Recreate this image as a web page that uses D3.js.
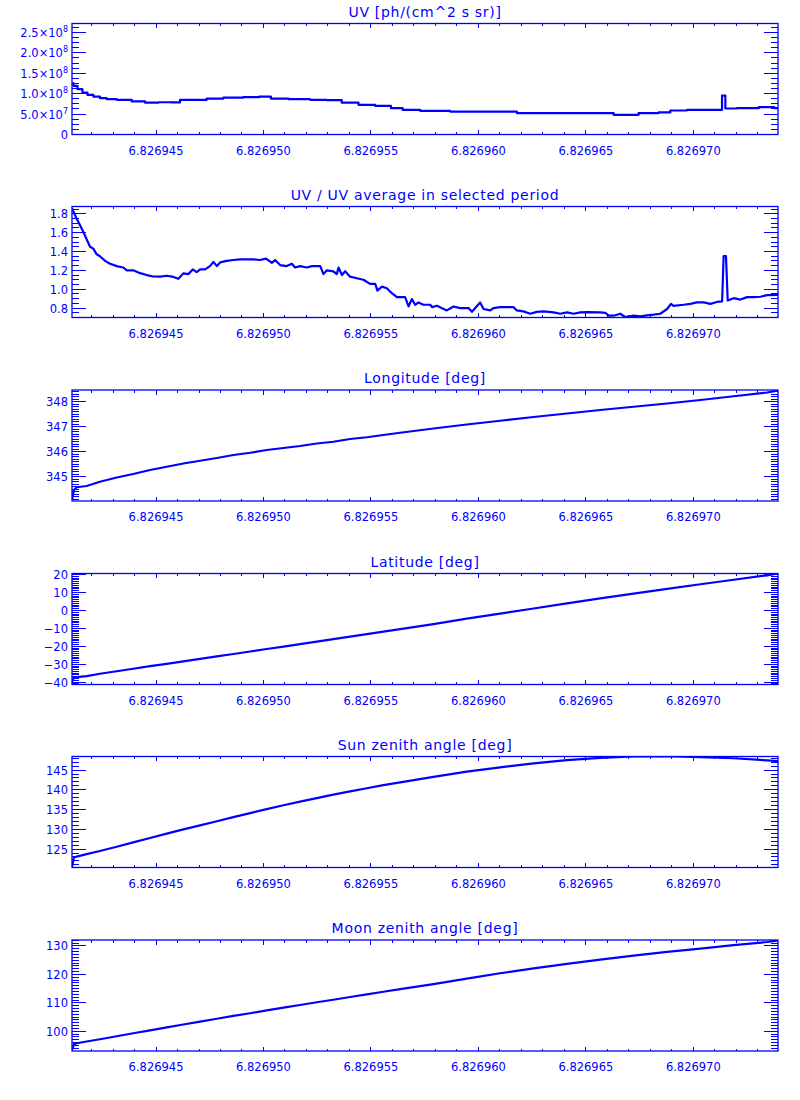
<!DOCTYPE html>
<html><head><meta charset="utf-8">
<script src="https://cdn.jsdelivr.net/npm/d3@7"></script>
<style>
body{margin:0;background:#fff}
svg{display:block}
text{font-family:"DejaVu Sans",sans-serif;fill:#0000ff}
</style>
</head><body>
<svg id="c" width="800" height="1100"></svg>
<script>
// ---------------- DATA ----------------
const titles = [
  "UV [ph/(cm^2 s sr)]",
  "UV / UV average in selected period",
  "Longitude [deg]",
  "Latitude [deg]",
  "Sun zenith angle [deg]",
  "Moon zenith angle [deg]"
];
const xDomain = [6.82694109, 6.82697394];
const xTicks = [6.826945, 6.826950, 6.826955, 6.826960, 6.826965, 6.826970];
const xMinorStep = 1e-6;

const uvTimes = [6.82694109,6.82694123,6.82694146,6.82694169,6.82694193,6.82694224,6.82694255,6.82694286,
  6.82694348,6.82694426,6.82694472,6.82694550,6.82694596,6.82694627,6.82694705,6.82694767,6.82694860,
  6.82694953,6.82695007,6.82695062,6.82695170,6.82695264,6.82695325,6.82695403,6.82695481,6.82695558,
  6.82695628,6.82695667,6.82695791,6.82695946,6.82696101,6.82696257,6.82696412,6.82696567,6.82696691,
  6.82696800,6.82696878,6.82696908,6.82697033,6.82697094,6.82697126,6.82697141,6.82697157,6.82697250,6.82697359,6.82697394];
const uvValues = [1.256e8,1.19e8,1.11e8,1.027e8,0.97e8,0.93e8,0.89e8,0.866e8,
  0.85e8,0.81e8,0.78e8,0.79e8,0.785e8,0.85e8,0.85e8,0.88e8,0.905e8,
  0.915e8,0.93e8,0.88e8,0.866e8,0.85e8,0.84e8,0.78e8,0.727e8,0.70e8,
  0.646e8,0.605e8,0.58e8,0.563e8,0.563e8,0.524e8,0.524e8,0.524e8,0.483e8,
  0.524e8,0.54e8,0.588e8,0.605e8,0.605e8,0.605e8,0.954e8,0.637e8,0.646e8,0.67e8,0.646e8];

const ratioTimes = [6.82694109,6.82694128,6.82694146,6.82694165,6.82694183,6.82694193,6.82694208,6.82694224,
  6.82694239,6.82694263,6.82694286,6.82694317,6.82694348,6.82694364,6.82694394,6.82694426,6.82694457,
  6.82694487,6.82694519,6.82694550,6.82694581,6.82694604,6.82694627,6.82694650,6.82694671,6.82694689,
  6.82694705,6.82694728,6.82694751,6.82694767,6.82694783,6.82694798,6.82694829,6.82694860,6.82694891,
  6.82694922,6.82694953,6.82694984,6.82695012,6.82695039,6.82695054,6.82695077,6.82695108,6.82695132,
  6.82695147,6.82695170,6.82695202,6.82695225,6.82695264,6.82695279,6.82695295,6.82695325,6.82695341,
  6.82695349,6.82695365,6.82695380,6.82695403,6.82695434,6.82695465,6.82695496,6.82695520,6.82695530,
  6.82695551,6.82695574,6.82695597,6.82695621,6.82695636,6.82695659,6.82695675,6.82695690,6.82695706,
  6.82695721,6.82695744,6.82695776,6.82695784,6.82695807,6.82695838,6.82695853,6.82695884,6.82695915,
  6.82695954,6.82695970,6.82695985,6.82696008,6.82696024,6.82696055,6.82696070,6.82696101,6.82696163,
  6.82696179,6.82696210,6.82696241,6.82696272,6.82696303,6.82696350,6.82696381,6.82696412,6.82696443,
  6.82696474,6.82696505,6.82696567,6.82696590,6.82696606,6.82696629,6.82696660,6.82696683,6.82696722,
  6.82696753,6.82696784,6.82696815,6.82696846,6.82696878,6.82696896,6.82696908,6.82696955,6.82696986,
  6.82697017,6.82697048,6.82697079,6.82697110,6.82697134,6.82697141,6.82697152,6.82697160,6.82697188,
  6.82697219,6.82697250,6.82697281,6.82697312,6.82697343,6.82697394];
const ratioValues = [1.86,1.76,1.68,1.59,1.50,1.45,1.43,1.37,
  1.35,1.30,1.27,1.245,1.23,1.20,1.20,1.17,1.15,
  1.135,1.133,1.143,1.13,1.11,1.168,1.16,1.21,1.18,
  1.21,1.21,1.245,1.29,1.245,1.284,1.30,1.31,1.316,
  1.316,1.316,1.31,1.325,1.28,1.31,1.256,1.245,1.27,
  1.23,1.245,1.23,1.245,1.245,1.16,1.20,1.19,1.16,
  1.23,1.15,1.19,1.133,1.116,1.10,1.056,1.056,0.985,
  1.027,1.01,0.958,0.916,0.916,0.916,0.817,0.895,0.835,
  0.86,0.835,0.835,0.81,0.824,0.79,0.775,0.817,0.80,
  0.80,0.76,0.80,0.86,0.79,0.775,0.80,0.81,0.81,
  0.775,0.765,0.74,0.76,0.765,0.755,0.74,0.755,0.74,
  0.755,0.758,0.755,0.75,0.719,0.719,0.74,0.705,0.72,
  0.712,0.722,0.73,0.74,0.79,0.845,0.824,0.835,0.845,
  0.86,0.86,0.845,0.865,0.87,1.35,1.35,0.88,0.905,
  0.89,0.916,0.916,0.92,0.937,0.94];

const geoTimes = [6.82694109,6.82694118,6.82694131,6.82694177,6.82694239,6.82694317,6.82694394,6.82694472,
  6.82694550,6.82694627,6.82694705,6.82694783,6.82694860,6.82694938,6.82695015,6.82695093,6.82695170,
  6.82695248,6.82695325,6.82695403,6.82695481,6.82695558,6.82695636,6.82695791,6.82695946,6.82696101,
  6.82696257,6.82696412,6.82696567,6.82696722,6.82696878,6.82697033,6.82697188,6.82697343,6.82697394];
const longitude = [344.07,344.47,344.58,344.63,344.80,344.97,345.11,345.27,
  345.40,345.53,345.64,345.75,345.87,345.96,346.07,346.15,346.23,
  346.33,346.40,346.51,346.58,346.67,346.76,346.93,347.09,347.24,
  347.39,347.53,347.67,347.80,347.93,348.07,348.22,348.37,348.44];
const latitude = [-39.8,-37.4,-37.2,-36.6,-35.3,-33.9,-32.5,-31.1,
  -29.8,-28.4,-27.0,-25.6,-24.3,-22.9,-21.5,-20.2,-18.8,
  -17.4,-16.0,-14.6,-13.2,-11.8,-10.4,-7.6,-4.6,-1.8,
  1.1,3.9,6.7,9.4,12.0,14.6,17.1,19.6,20.6];
const sunZenith = [120.4,122.9,123.1,123.7,124.5,125.6,126.7,127.8,
  128.9,130.0,131.0,132.05,133.1,134.1,135.1,136.1,137.0,
  137.9,138.8,139.6,140.4,141.2,141.9,143.3,144.6,145.7,
  146.7,147.5,148.1,148.45,148.5,148.3,148.0,147.45,147.25];
const moonZenith = [93.4,95.5,95.8,96.4,97.2,98.25,99.3,100.3,
  101.35,102.4,103.4,104.4,105.4,106.35,107.35,108.3,109.25,
  110.2,111.1,112.05,113.0,113.9,114.8,116.6,118.5,120.4,
  122.1,123.7,125.2,126.6,127.9,129.1,130.3,131.4,131.85];

const yDomains = [[0,2.72e8],[0.70,1.877],[344.03,348.47],[-41.3,20.6],[120.33,148.44],[93.07,132.1]];
const yTicks = [[0,5e7,1e8,1.5e8,2e8,2.5e8],[0.8,1.0,1.2,1.4,1.6,1.8],[345,346,347,348],
  [-40,-30,-20,-10,0,10,20],[125,130,135,140,145],[100,110,120,130]];
const yMinorSteps = [1.25e7,0.05,0.1,1,1,1];

// ---------------- LAYOUT / STYLE ----------------
const BLUE = "#0000ff";
const X0 = 72, X1 = 778, PH = 111;
const tops = [23.5, 206.5, 390, 573.5, 756.5, 940];
const svg = d3.select("#c");
const x = d3.scaleLinear().domain(xDomain).range([X0, X1]);

const series = [
  {t: uvTimes, v: uvValues, curve: d3.curveStep, fmt: "sci"},
  {t: ratioTimes, v: ratioValues, curve: d3.curveLinear, fmt: ".1f"},
  {t: geoTimes, v: longitude, curve: d3.curveLinear, fmt: "d"},
  {t: geoTimes, v: latitude, curve: d3.curveLinear, fmt: "d"},
  {t: geoTimes, v: sunZenith, curve: d3.curveLinear, fmt: "d"},
  {t: geoTimes, v: moonZenith, curve: d3.curveLinear, fmt: "d"}
];

function stepValues(dom, step) {
  const out = [];
  const k0 = Math.ceil(dom[0] / step - 1e-9), k1 = Math.floor(dom[1] / step + 1e-9);
  for (let k = k0; k <= k1; k++) out.push(k * step);
  return out;
}

series.forEach((s, i) => {
  const top = tops[i], bot = top + PH;
  const y = d3.scaleLinear().domain(yDomains[i]).range([bot, top]);
  const g = svg.append("g");

  g.append("text").attr("x", (X0 + X1) / 2).attr("y", top - 7)
    .attr("text-anchor", "middle").attr("font-size", 14).attr("letter-spacing", 0.7)
    .text(titles[i]);

  const cid = "clip" + i;
  svg.append("clipPath").attr("id", cid).append("rect")
    .attr("x", X0).attr("y", top).attr("width", X1 - X0).attr("height", PH);

  const line = d3.line().x((d, j) => x(s.t[j])).y(d => y(d)).curve(s.curve);
  g.append("path").datum(s.v).attr("d", line).attr("fill", "none")
    .attr("stroke", BLUE).attr("stroke-width", 2.2).attr("stroke-linejoin", "round")
    .attr("clip-path", `url(#${cid})`);

  g.append("rect").attr("x", X0).attr("y", top).attr("width", X1 - X0).attr("height", PH)
    .attr("fill", "none").attr("stroke", BLUE).attr("stroke-width", 1.3);

  const ticks = g.append("g").attr("stroke", BLUE).attr("stroke-width", 1)
    .attr("shape-rendering", "crispEdges");

  stepValues(xDomain, xMinorStep).forEach(v => {
    const px = x(v);
    ticks.append("line").attr("x1", px).attr("x2", px).attr("y1", bot).attr("y2", bot - 2.5);
    ticks.append("line").attr("x1", px).attr("x2", px).attr("y1", top).attr("y2", top + 2.5);
  });
  xTicks.forEach(v => {
    const px = x(v);
    ticks.append("line").attr("x1", px).attr("x2", px).attr("y1", bot).attr("y2", bot - 4.5);
    ticks.append("line").attr("x1", px).attr("x2", px).attr("y1", top).attr("y2", top + 4.5);
    g.append("text").attr("x", px).attr("y", bot + 20).attr("text-anchor", "middle")
      .attr("font-size", 11.5).text(d3.format(".6f")(v));
  });

  stepValues(yDomains[i], yMinorSteps[i]).forEach(v => {
    const py = y(v);
    ticks.append("line").attr("x1", X0).attr("x2", X0 + 7).attr("y1", py).attr("y2", py);
    ticks.append("line").attr("x1", X1).attr("x2", X1 - 7).attr("y1", py).attr("y2", py);
  });
  yTicks[i].forEach(v => {
    const py = y(v);
    ticks.append("line").attr("x1", X0).attr("x2", X0 + 14).attr("y1", py).attr("y2", py);
    ticks.append("line").attr("x1", X1).attr("x2", X1 - 14).attr("y1", py).attr("y2", py);
    const t = g.append("text").attr("x", 68).attr("y", py + 4.5).attr("text-anchor", "end")
      .attr("font-size", 11.5);
    if (s.fmt === "sci") {
      if (v === 0) { t.text("0"); }
      else {
        const e = Math.floor(Math.log10(v) + 1e-9);
        const m = v / Math.pow(10, e);
        t.append("tspan").text(m.toFixed(1) + "\u00d710");
        t.append("tspan").attr("dy", -5).attr("font-size", 8).text(String(e));
      }
    } else {
      t.text(d3.format(s.fmt)(v));
    }
  });
});
</script>
</body></html>
